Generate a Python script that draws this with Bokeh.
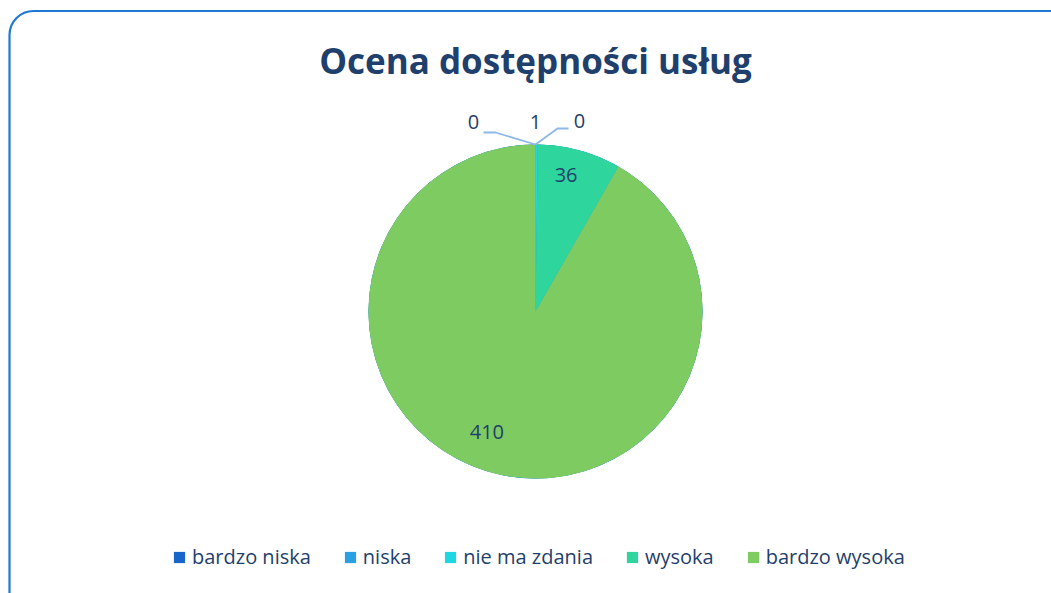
import numpy as np
from bokeh.plotting import figure
from bokeh.models import ColumnDataSource, BoxAnnotation, Legend, LegendItem, Range1d
from bokeh.core.properties import value
from bokeh.embed import file_html
from bokeh.resources import INLINE

# ---- data ----
categories = ["bardzo niska", "niska", "nie ma zdania", "wysoka", "bardzo wysoka"]
counts = [0, 0, 1, 36, 410]
colors = ["#1a66c8", "#2a9fe3", "#1fd6e3", "#2ed59c", "#7ecb62"]
title_text = "Ocena dostępności usług"

W, H = 1051, 593
def sx(X):
    return X
def sy(Y):
    return H - Y

p = figure(width=W, height=H, output_backend="svg", toolbar_location=None,
           x_range=Range1d(0, W), y_range=Range1d(0, H), min_border=0)
p.axis.visible = False
p.grid.visible = False
p.outline_line_color = None
p.background_fill_color = "white"

# outer rounded border (cut off on the right and bottom like the original)
p.add_layout(BoxAnnotation(left=sx(9), right=sx(1085), top=sy(10.5), bottom=sy(620),
                           border_radius=24, fill_alpha=0, line_color="#1f78d1",
                           line_alpha=1, line_width=2.2))

# title
p.text(x=[sx(535)], y=[sy(60)], text=[title_text], text_align="center",
       text_baseline="alphabetic", text_font=value("Open Sans"),
       text_font_style="bold", text_font_size="35px", text_color="#1f3f6c")

# pie
cx, cy, r = sx(535), sy(311), 167
vals = np.array(counts, dtype=float)
total = vals.sum()
frac_end = np.cumsum(vals) / total
frac_start = frac_end - vals / total
start_angle = np.pi / 2 - frac_end * 2 * np.pi
end_angle = np.pi / 2 - frac_start * 2 * np.pi
src = ColumnDataSource(dict(cat=categories, start=start_angle, end=end_angle,
                            color=colors))
wr = p.wedge(x=cx, y=cy, radius=r, start_angle="start", end_angle="end",
             fill_color="color", line_color=None, source=src)

# data labels inside big slices
mid = np.pi / 2 - (frac_start + frac_end) * np.pi
lx, ly, lt = [], [], []
for i, v in enumerate(counts):
    if v >= 10:
        f = 0.83
        lx.append(cx + f * r * np.cos(mid[i]) - 13 * (i == 4) - 6 * (i == 3))
        ly.append(cy + f * r * np.sin(mid[i]) + 13 * (i == 4) + 3 * (i == 3))
        lt.append(str(v))
p.text(x=lx, y=ly, text=lt, text_align="center", text_baseline="middle",
       text_font=value("Open Sans"), text_font_size="20px", text_color="#1f3f6c")

# small-slice labels with leader lines
top_x, top_y = cx, cy + r
small = [i for i, v in enumerate(counts) if v < 10]
offsets = {0: (-62, 23), 2: (0, 23), 1: (44, 24)}
lead = {0: [(-40, 12), (-52, 12)], 1: [(22, 16), (33, 16)]}
for i in small:
    dx, dy = offsets[i]
    p.text(x=[top_x + dx], y=[top_y + dy], text=[str(counts[i])], text_align="center",
           text_baseline="middle", text_font=value("Open Sans"),
           text_font_size="20px", text_color="#1f3f6c")
    if i in lead:
        xs = [top_x] + [top_x + a for a, b in lead[i]]
        ys = [top_y] + [top_y + b for a, b in lead[i]]
        p.line(xs, ys, line_color="#8db8e8", line_width=1.8)

# legend
items = [LegendItem(label=c, renderers=[wr], index=i) for i, c in enumerate(categories)]
leg = Legend(items=items, orientation="horizontal", location=(sx(172), sy(570)),
             label_text_font="Open Sans", label_text_font_size="20px",
             label_text_color="#1f3f6c", glyph_width=14, glyph_height=14,
             label_standoff=6, spacing=32, padding=0, margin=0,
             background_fill_alpha=0, border_line_color=None,
             label_height=22)
p.add_layout(leg, "center")

open("out.html", "w").write(file_html(p, INLINE))
